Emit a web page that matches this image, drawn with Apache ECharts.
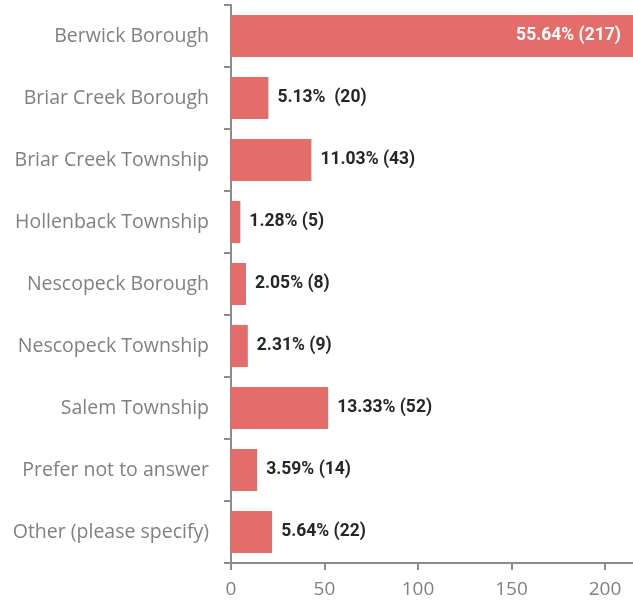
<!DOCTYPE html>
<html>
<head>
<meta charset="utf-8">
<script src="https://cdn.jsdelivr.net/npm/echarts@6/dist/echarts.min.js"></script>
<style>
  html, body { margin: 0; padding: 0; background: #fff; }
  #chart { width: 633px; height: 605px; }
</style>
</head>
<body>
<div id="chart"></div>
<script>
// survey answers, top to bottom
var categories = [
  'Berwick Borough',
  'Briar Creek Borough',
  'Briar Creek Township',
  'Hollenback Township',
  'Nescopeck Borough',
  'Nescopeck Township',
  'Salem Township',
  'Prefer not to answer',
  'Other (please specify)'
];
var counts = [217, 20, 43, 5, 8, 9, 52, 14, 22];
var percents = ['55.64%', '5.13% ', '11.03%', '1.28%', '2.05%', '2.31%', '13.33%', '3.59%', '5.64%'];
var xTicks = [0, 50, 100, 150, 200];

var chart = echarts.init(document.getElementById('chart'));

var barData = counts.map(function (v, i) {
  var item = { value: v };
  if (i === 0) {
    // the big one is clipped at the edge, label goes inside
    item.label = { position: 'insideRight', color: '#fff', distance: 12 };
  }
  return item;
});

var option = {
  animation: false,
  grid: { left: 231, right: 0, top: 5, bottom: 42, containLabel: false },
  xAxis: {
    type: 'value',
    min: 0,
    max: 215,
    interval: 50,
    axisLine: { show: true, lineStyle: { color: '#8c8c8c', width: 2 } },
    axisTick: { show: true, length: 7, lineStyle: { color: '#8c8c8c', width: 2 } },
    splitLine: { show: false },
    axisLabel: {
      margin: 17,
      fontSize: 19,
      color: '#808080',
      fontFamily: 'Open Sans',
      showMaxLabel: false,
      formatter: function (v) { return xTicks.indexOf(v) >= 0 ? String(v) : ''; }
    }
  },
  yAxis: {
    type: 'category',
    inverse: true,
    data: categories,
    axisLine: { show: true, lineStyle: { color: '#8c8c8c', width: 2 } },
    axisTick: { show: true, length: 7, lineStyle: { color: '#8c8c8c', width: 2 } },
    axisLabel: {
      margin: 22,
      fontSize: 19.5,
      color: '#808080',
      fontFamily: 'Open Sans'
    }
  },
  series: [{
    type: 'bar',
    data: barData,
    barCategoryGap: '32%',
    clip: true,
    itemStyle: { color: '#E46C6A' },
    label: {
      show: true,
      position: 'right',
      distance: 9,
      fontSize: 17.5,
      fontWeight: 'bold',
      fontFamily: 'Roboto',
      color: '#262626',
      formatter: function (p) {
        return percents[p.dataIndex] + ' (' + counts[p.dataIndex] + ')';
      }
    }
  }]
};

chart.setOption(option);
</script>
</body>
</html>
